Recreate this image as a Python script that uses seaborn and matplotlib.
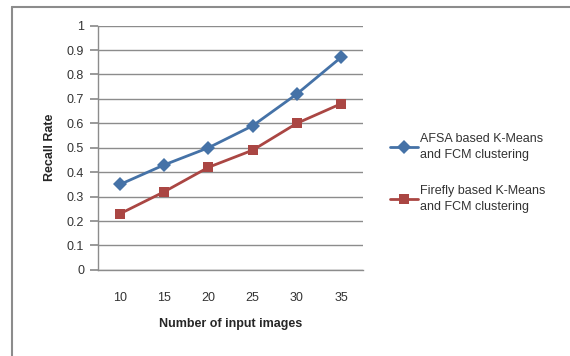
import pandas as pd
import seaborn as sns
import matplotlib.pyplot as plt
from matplotlib.lines import Line2D

# data
images = ['10', '15', '20', '25', '30', '35']
afsa = [0.35, 0.43, 0.50, 0.59, 0.72, 0.87]
firefly = [0.23, 0.32, 0.42, 0.49, 0.60, 0.68]
names = ['AFSA based K-Means\nand FCM clustering', 'Firefly based K-Means\nand FCM clustering']

df = pd.DataFrame({'images': images * 2,
                   'recall': afsa + firefly,
                   'method': [names[0]] * 6 + [names[1]] * 6})

sns.set_theme(style='white')
plt.rcParams['font.family'] = ['Liberation Sans', 'DejaVu Sans']

fig = plt.figure(figsize=(5.7, 3.56), dpi=100)
ax = fig.add_axes([0.172, 0.242, 0.465, 0.686])

sns.lineplot(data=df, x='images', y='recall', hue='method', style='method',
             palette=['#4572A7', '#AA4643'], markers=['D', 's'], dashes=False,
             markersize=7, linewidth=2, markeredgewidth=0, ax=ax)

ax.set_xlim(-0.5, 5.5)
ax.set_ylim(0, 1)
ax.set_yticks([i / 10 for i in range(11)])
ax.set_yticklabels(['0', '0.1', '0.2', '0.3', '0.4', '0.5', '0.6', '0.7', '0.8', '0.9', '1'])
ax.yaxis.grid(True, color='#8c8c8c', linewidth=1)
ax.set_axisbelow(True)
for s in ['top', 'right']:
    ax.spines[s].set_visible(False)
for s in ['left', 'bottom']:
    ax.spines[s].set_color('#8c8c8c')
    ax.spines[s].set_linewidth(1)
ax.tick_params(axis='y', length=6, color='#8c8c8c', labelsize=9, labelcolor='#333333', pad=4, left=True)
ax.tick_params(axis='x', length=0, labelsize=9, labelcolor='#333333', pad=16)
ax.set_xlabel('Number of input images', fontsize=9, fontweight='bold', labelpad=10)
ax.set_ylabel('Recall Rate', fontsize=9, fontweight='bold', labelpad=8)

handles, labels = ax.get_legend_handles_labels()
leg = ax.legend(handles, labels, loc='center left', bbox_to_anchor=(0.665, 0.515),
                bbox_transform=fig.transFigure, frameon=False, fontsize=9,
                handlelength=2.2, handletextpad=0.2, labelspacing=1.9, labelcolor='#333333')
for t in leg.get_texts():
    t.set_linespacing(1.45)

# frame: only top and left edges are visible in the source
fig.lines.append(Line2D([12 / 570, 1], [1 - 7 / 356, 1 - 7 / 356], transform=fig.transFigure,
                        color='#8c8c8c', linewidth=1.5))
fig.lines.append(Line2D([12 / 570, 12 / 570], [0, 1 - 7 / 356], transform=fig.transFigure,
                        color='#8c8c8c', linewidth=1.5))

fig.savefig('out.png', dpi=100)
